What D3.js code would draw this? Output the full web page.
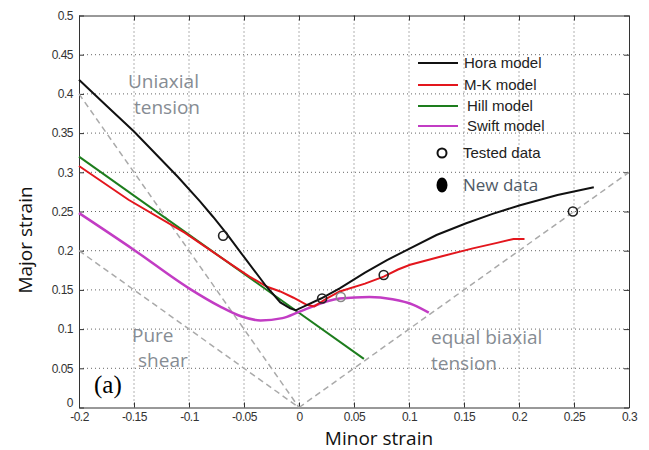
<!DOCTYPE html>
<html>
<head>
<meta charset="utf-8">
<script src="https://cdn.jsdelivr.net/npm/d3@7"></script>
<style>
  body { margin: 0; background: #fff; }
  #graph { width: 649px; height: 450px; }
</style>
</head>
<body>
<div id="graph"></div>
<script>
// tick values
const xTicks = [-0.2, -0.15, -0.1, -0.05, 0, 0.05, 0.1, 0.15, 0.2, 0.25, 0.3];
const yTicks = [0, 0.05, 0.1, 0.15, 0.2, 0.25, 0.3, 0.35, 0.4, 0.45, 0.5];

// forming limit curves, [minor, major]
const horaModel = [[-0.2, 0.418], [-0.175, 0.385], [-0.15, 0.352], [-0.13, 0.323], [-0.11, 0.294],
  [-0.09, 0.263], [-0.078, 0.243], [-0.066, 0.222], [-0.05, 0.192], [-0.03, 0.155], [-0.017, 0.134],
  [-0.008, 0.1265], [-0.003, 0.124], [0.02, 0.139], [0.037, 0.152], [0.06, 0.172], [0.08, 0.188],
  [0.101, 0.203], [0.125, 0.22], [0.152, 0.235], [0.176, 0.247], [0.201, 0.258], [0.235, 0.271],
  [0.268, 0.281]];
const mkModel = [[-0.2, 0.308], [-0.155, 0.265], [-0.104, 0.223], [-0.08, 0.2], [-0.06, 0.181],
  [-0.045, 0.167], [-0.029, 0.154], [-0.017, 0.148], [-0.005, 0.14], [0.007, 0.131], [0.014, 0.129],
  [0.025, 0.139], [0.037, 0.148], [0.06, 0.158], [0.077, 0.167], [0.09, 0.176], [0.101, 0.182],
  [0.13, 0.193], [0.158, 0.203], [0.18, 0.21], [0.195, 0.215], [0.205, 0.215]];
const hillModel = [[-0.2, 0.32], [0.059, 0.062]];
const swiftModel = [[-0.2, 0.248], [-0.15, 0.201], [-0.1, 0.152], [-0.072, 0.129], [-0.052, 0.116],
  [-0.035, 0.111], [-0.015, 0.114], [0, 0.122], [0.037, 0.139], [0.064, 0.141], [0.085, 0.138],
  [0.104, 0.131], [0.118, 0.121]];
const testedData = [[-0.069, 0.219], [0.021, 0.139], [0.038, 0.141], [0.077, 0.169], [0.249, 0.25]];

// strain path reference lines
const uniaxialPath = [[-0.2, 0.4], [0, 0]];
const shearPath = [[-0.2, 0.2], [0, 0]];
const biaxialPath = [[0, 0], [0.3, 0.3]];

const legendNames = ["Hora model", "M-K model", "Hill model", "Swift model"];
const legendColors = ["#111", "#e3161d", "#1d7d1d", "#c23cc4"];

const margin = { top: 15.5, right: 20, bottom: 42.5, left: 79 };
const W = 649, H = 450;
const width = W - margin.left - margin.right;
const height = H - margin.top - margin.bottom;

const svg = d3.select("#graph").append("svg")
  .attr("width", W).attr("height", H)
  .append("g")
  .attr("transform", "translate(" + margin.left + "," + margin.top + ")");

const x = d3.scaleLinear().domain([-0.2, 0.3]).range([0, width]);
const y = d3.scaleLinear().domain([0, 0.5]).range([height, 0]);

// grid
svg.append("g").selectAll("line").data(xTicks.slice(1, -1)).enter().append("line")
  .attr("x1", d => x(d)).attr("x2", d => x(d)).attr("y1", 0).attr("y2", height)
  .attr("stroke", "#666").attr("stroke-width", 1).attr("stroke-dasharray", "1,3");
svg.append("g").selectAll("line").data(yTicks.slice(1, -1)).enter().append("line")
  .attr("y1", d => y(d)).attr("y2", d => y(d)).attr("x1", 0).attr("x2", width)
  .attr("stroke", "#666").attr("stroke-width", 1).attr("stroke-dasharray", "1,3");

// axes with inward ticks
const fmt = d => String(d);
const xAxis = svg.append("g").attr("transform", "translate(0," + height + ")")
  .call(d3.axisBottom(x).tickValues(xTicks).tickSizeInner(-5).tickSizeOuter(0).tickPadding(8).tickFormat(fmt));
const yAxis = svg.append("g")
  .call(d3.axisLeft(y).tickValues(yTicks).tickSizeInner(-5).tickSizeOuter(0).tickPadding(6).tickFormat(fmt));
svg.append("g").attr("transform", "translate(" + width + ",0)")
  .call(d3.axisRight(y).tickValues(yTicks).tickSizeInner(-5).tickSizeOuter(0).tickFormat(""));
svg.append("g")
  .call(d3.axisTop(x).tickValues(xTicks).tickSizeInner(-5).tickSizeOuter(0).tickFormat(""));
svg.selectAll(".domain").attr("stroke", "#333");
svg.selectAll(".tick line").attr("stroke", "#333");
svg.selectAll(".tick text").attr("font-family", "Liberation Sans, Arial, sans-serif")
  .attr("font-size", 12).attr("fill", "#333").attr("letter-spacing", "-0.5");
yAxis.selectAll(".tick text").filter(d => d === 0).attr("dy", "-0.1em");
xAxis.selectAll(".tick text").attr("dy", "0.45em");

const line = d3.line().x(d => x(d[0])).y(d => y(d[1]));

// reference paths
[uniaxialPath, shearPath, biaxialPath].forEach(p => {
  svg.append("path").attr("d", line(p)).attr("fill", "none")
    .attr("stroke", "#aaa").attr("stroke-width", 1.5).attr("stroke-dasharray", "6,4");
});

// model curves
svg.append("path").attr("d", line.curve(d3.curveLinear)(hillModel)).attr("fill", "none")
  .attr("stroke", legendColors[2]).attr("stroke-width", 2);
svg.append("path").attr("d", line.curve(d3.curveMonotoneX)(swiftModel)).attr("fill", "none")
  .attr("stroke", legendColors[3]).attr("stroke-width", 2.5);
svg.append("path").attr("d", line.curve(d3.curveLinear)(mkModel)).attr("fill", "none")
  .attr("stroke", legendColors[1]).attr("stroke-width", 2);
svg.append("path").attr("d", line.curve(d3.curveLinear)(horaModel)).attr("fill", "none")
  .attr("stroke", legendColors[0]).attr("stroke-width", 2);

svg.selectAll("circle.tested").data(testedData).enter().append("circle")
  .attr("class", "tested")
  .attr("cx", d => x(d[0])).attr("cy", d => y(d[1])).attr("r", 4.5)
  .attr("fill", "none").attr("stroke", (d, i) => i === 2 ? "#888" : "#222").attr("stroke-width", 1.6);

// annotations
const ann = svg.append("g").attr("font-family", "Open Sans, sans-serif").attr("font-size", 19).attr("fill", "#868c93");
ann.append("text").attr("x", 128 - margin.left).attr("y", 88 - margin.top).text("Uniaxial");
ann.append("text").attr("x", 134 - margin.left).attr("y", 114 - margin.top).text("tension");
ann.append("text").attr("x", 132 - margin.left).attr("y", 342 - margin.top).text("Pure");
ann.append("text").attr("x", 138 - margin.left).attr("y", 367 - margin.top).text("shear");
ann.append("text").attr("x", 431 - margin.left).attr("y", 344 - margin.top).text("equal biaxial");
ann.append("text").attr("x", 431 - margin.left).attr("y", 370 - margin.top).text("tension");
svg.append("text").attr("x", 94 - margin.left).attr("y", 393 - margin.top)
  .attr("font-family", "Liberation Serif, Times New Roman, serif").attr("font-size", 25).text("(a)");

// legend
const legendY = [63, 85, 106, 126];
const leg = svg.append("g").attr("font-family", "Liberation Sans, Arial, sans-serif").attr("font-size", 15).attr("fill", "#222");
legendNames.forEach((n, i) => {
  leg.append("line").attr("x1", 418 - margin.left).attr("x2", 458 - margin.left)
    .attr("y1", legendY[i] - margin.top).attr("y2", legendY[i] - margin.top)
    .attr("stroke", legendColors[i]).attr("stroke-width", 2);
  leg.append("text").attr("x", (i < 2 ? 464 : 467) - margin.left).attr("y", legendY[i] - margin.top)
    .attr("dy", "0.35em").text(n);
});
leg.append("circle").attr("cx", 442 - margin.left).attr("cy", 153 - margin.top).attr("r", 4.5)
  .attr("fill", "none").attr("stroke", "#111").attr("stroke-width", 2);
leg.append("text").attr("x", 463 - margin.left).attr("y", 153 - margin.top).attr("dy", "0.35em").text("Tested data");
leg.append("ellipse").attr("cx", 442 - margin.left).attr("cy", 185 - margin.top).attr("rx", 5.5).attr("ry", 7.5)
  .attr("fill", "#000");
leg.append("text").attr("x", 463 - margin.left).attr("y", 185 - margin.top).attr("dy", "0.35em")
  .attr("font-family", "Open Sans, sans-serif").attr("font-size", 17).attr("fill", "#4f5a66").text("New data");

// axis titles
svg.append("text").attr("transform", "translate(" + (32 - margin.left) + "," + (240 - margin.top) + ") rotate(-90)")
  .attr("text-anchor", "middle").attr("font-family", "Open Sans, sans-serif").attr("font-size", 19)
  .attr("fill", "#111").text("Major strain");
svg.append("text").attr("x", 379 - margin.left).attr("y", 445 - margin.top)
  .attr("text-anchor", "middle").attr("font-family", "Open Sans, sans-serif").attr("font-size", 19)
  .attr("fill", "#111").text("Minor strain");
</script>
</body>
</html>
